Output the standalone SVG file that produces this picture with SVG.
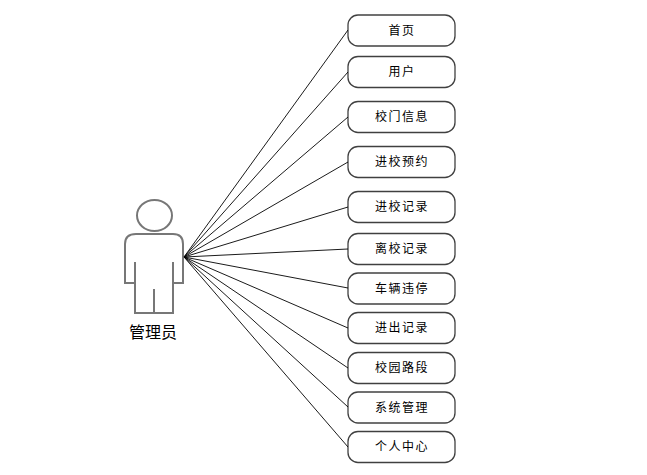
<svg xmlns="http://www.w3.org/2000/svg" width="647" height="475" viewBox="0 0 647 475">
<style>
.n rect{fill:#fff;stroke:#000;stroke-opacity:.75;stroke-width:1.3}
.n text{font:12px "Noto Sans CJK SC","Noto Sans CJK JP",sans-serif;letter-spacing:1.5px;text-anchor:middle;fill:#000}
#connectors line{stroke:#000;stroke-width:.9}
#actor path,#actor ellipse{fill:#fff;stroke:#777;stroke-width:2}
#actor text{font:16px "Noto Sans CJK SC","Noto Sans CJK JP",sans-serif;text-anchor:middle;fill:#000}
</style>
<rect width="647" height="475" fill="#fff"/>
<g id="actor">
<ellipse cx="154.500" cy="215.500" rx="17.500" ry="15.500"/>
<path d="M136 234H173Q183 234 183 244V283H173V313H135V283H125V244Q125 234 136 234Z"/>
<path d="M135 262V283M173 262V283M154 289V313" fill="none"/>
<text x="153" y="338">管理员</text>
</g>
<g id="connectors">
<line x1="184" y1="257" x2="348" y2="30"/>
<line x1="184" y1="257" x2="348" y2="72"/>
<line x1="184" y1="257" x2="348" y2="117"/>
<line x1="184" y1="257" x2="348" y2="162"/>
<line x1="184" y1="257" x2="348" y2="207"/>
<line x1="184" y1="257" x2="348" y2="249"/>
<line x1="184" y1="257" x2="348" y2="288"/>
<line x1="184" y1="257" x2="348" y2="328"/>
<line x1="184" y1="257" x2="348" y2="368"/>
<line x1="184" y1="257" x2="348" y2="407"/>
<line x1="184" y1="257" x2="348" y2="447"/>
</g>
<g id="n1" class="n"><rect x="348" y="15" width="107" height="31" rx="10"/><text x="402" y="35">首页</text></g>
<g id="n2" class="n"><rect x="348" y="56.500" width="107" height="31" rx="10"/><text x="402" y="76">用户</text></g>
<g id="n3" class="n"><rect x="348" y="101.500" width="107" height="31" rx="10"/><text x="402" y="121">校门信息</text></g>
<g id="n4" class="n"><rect x="348" y="146.500" width="107" height="31" rx="10"/><text x="402" y="166">进校预约</text></g>
<g id="n5" class="n"><rect x="348" y="191.500" width="107" height="31" rx="10"/><text x="402" y="211">进校记录</text></g>
<g id="n6" class="n"><rect x="348" y="233.500" width="107" height="31" rx="10"/><text x="402" y="253">离校记录</text></g>
<g id="n7" class="n"><rect x="348" y="273" width="107" height="31" rx="10"/><text x="402" y="293">车辆违停</text></g>
<g id="n8" class="n"><rect x="348" y="312.500" width="107" height="31" rx="10"/><text x="402" y="332">进出记录</text></g>
<g id="n9" class="n"><rect x="348" y="352.500" width="107" height="31" rx="10"/><text x="402" y="372">校园路段</text></g>
<g id="n10" class="n"><rect x="348" y="392" width="107" height="31" rx="10"/><text x="402" y="412">系统管理</text></g>
<g id="n11" class="n"><rect x="348" y="431.500" width="107" height="31" rx="10"/><text x="402" y="451">个人中心</text></g>
</svg>
